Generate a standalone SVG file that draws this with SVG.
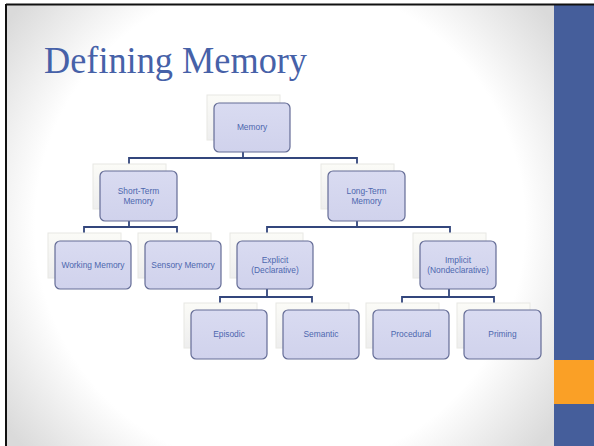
<svg xmlns="http://www.w3.org/2000/svg" width="594" height="446" viewBox="0 0 594 446">
<defs>
<radialGradient id="bg" cx="280" cy="225" r="340" gradientUnits="userSpaceOnUse">
<stop offset="0" stop-color="#FFFFFF"/>
<stop offset="0.72" stop-color="#FFFFFF"/>
<stop offset="1" stop-color="#DADADA"/>
</radialGradient>
<linearGradient id="back" x1="0" y1="0" x2="0" y2="1">
<stop offset="0" stop-color="#FBFBF7"/>
<stop offset="1" stop-color="#EEEEEE"/>
</linearGradient>
<linearGradient id="front" x1="0" y1="0" x2="0" y2="1">
<stop offset="0" stop-color="#D9DBF1"/>
<stop offset="1" stop-color="#D0D2EC"/>
</linearGradient>
</defs>
<style>
.back{fill:url(#back);stroke:#E8E8E4;stroke-width:1}
.front{fill:url(#front);stroke:#646C96;stroke-width:1.2}
.lbl{font-family:"Liberation Sans",Arial,sans-serif;font-size:8.4px;fill:#4D67AE;text-anchor:middle;dominant-baseline:central}
.conn{fill:none;stroke:#33467C;stroke-width:1.8;stroke-linejoin:miter}
.title{font-family:"Liberation Serif","Times New Roman",serif;font-size:37px;fill:#4661A8}
</style>
<rect x="0" y="0" width="594" height="446" fill="#FFFFFF"/>
<rect x="6" y="5" width="548" height="441" fill="url(#bg)"/>
<rect x="554" y="5" width="40" height="355" fill="#455E9B"/>
<rect x="554" y="360" width="40" height="44" fill="#FAA026"/>
<rect x="554" y="404" width="40" height="42" fill="#455E9B"/>
<line x1="6" y1="4.5" x2="594" y2="4.5" stroke="#111" stroke-width="2"/>
<line x1="6" y1="4" x2="6" y2="446" stroke="#111" stroke-width="2"/>
<text class="title" x="44" y="73" textLength="263" lengthAdjust="spacingAndGlyphs">Defining Memory</text>

<g id="connectors">
<path class="conn" d="M243 152 V158 M129 164 V158 H357 V164"/>
<path class="conn" d="M129 221 V227 M84 233 V227 H177 V233"/>
<path class="conn" d="M357 221 V227 M267 233 V227 H450 V233"/>
<path class="conn" d="M267 289 V297 M220 303 V297 H312 V303"/>
<path class="conn" d="M449 289 V297 M402 303 V297 H494 V303"/>
</g>

<g id="memory">
<rect class="back" x="207" y="95" width="73" height="45"/>
<rect class="front" x="214" y="103" width="76" height="49" rx="5"/>
<text class="lbl" x="252" y="127">Memory</text>
</g>
<g id="short-term">
<rect class="back" x="93" y="164" width="73" height="45"/>
<rect class="front" x="100" y="171" width="77" height="50" rx="5"/>
<text class="lbl" x="138.5" y="191">Short-Term</text>
<text class="lbl" x="138.5" y="201">Memory</text>
</g>
<g id="long-term">
<rect class="back" x="321" y="164" width="73" height="45"/>
<rect class="front" x="328" y="171" width="77" height="50" rx="5"/>
<text class="lbl" x="366.5" y="191">Long-Term</text>
<text class="lbl" x="366.5" y="201">Memory</text>
</g>
<g id="working">
<rect class="back" x="48" y="233" width="73" height="45"/>
<rect class="front" x="55" y="241" width="76" height="48" rx="5"/>
<text class="lbl" x="93" y="265">Working Memory</text>
</g>
<g id="sensory">
<rect class="back" x="138" y="233" width="73" height="45"/>
<rect class="front" x="145" y="241" width="76" height="48" rx="5"/>
<text class="lbl" x="183" y="265">Sensory Memory</text>
</g>
<g id="explicit">
<rect class="back" x="230" y="233" width="73" height="45"/>
<rect class="front" x="237" y="241" width="76" height="48" rx="5"/>
<text class="lbl" x="275" y="260">Explicit</text>
<text class="lbl" x="275" y="270">(Declarative)</text>
</g>
<g id="implicit">
<rect class="back" x="413" y="233" width="73" height="45"/>
<rect class="front" x="420" y="241" width="76" height="48" rx="5"/>
<text class="lbl" x="458" y="260">Implicit</text>
<text class="lbl" x="458" y="270">(Nondeclarative)</text>
</g>
<g id="episodic">
<rect class="back" x="184" y="303" width="73" height="45"/>
<rect class="front" x="191" y="310" width="76" height="49" rx="5"/>
<text class="lbl" x="229" y="334">Episodic</text>
</g>
<g id="semantic">
<rect class="back" x="276" y="303" width="73" height="45"/>
<rect class="front" x="283" y="310" width="76" height="49" rx="5"/>
<text class="lbl" x="321" y="334">Semantic</text>
</g>
<g id="procedural">
<rect class="back" x="366" y="303" width="73" height="45"/>
<rect class="front" x="373" y="310" width="76" height="49" rx="5"/>
<text class="lbl" x="411" y="334">Procedural</text>
</g>
<g id="priming">
<rect class="back" x="457" y="303" width="73" height="45"/>
<rect class="front" x="464" y="310" width="77" height="49" rx="5"/>
<text class="lbl" x="502.5" y="334">Priming</text>
</g>
</svg>
